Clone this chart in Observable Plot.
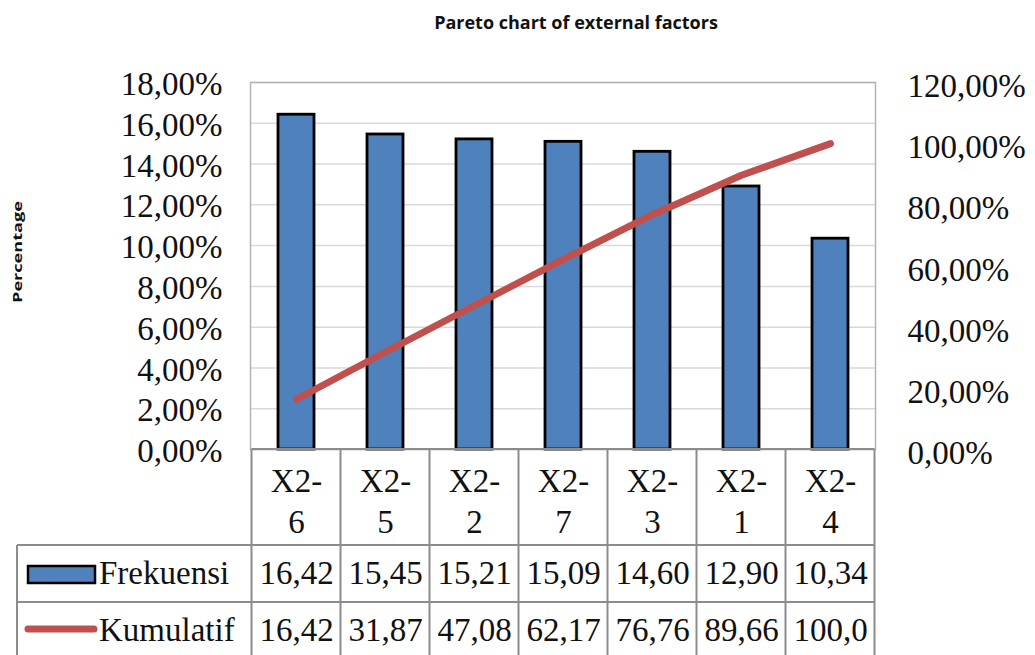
<!DOCTYPE html>
<html>
<head>
<meta charset="utf-8">
<script src="https://cdn.jsdelivr.net/npm/d3@7"></script>
<script src="https://cdn.jsdelivr.net/npm/@observablehq/plot@0.6"></script>
<style>
  html, body { margin: 0; padding: 0; background: #fff; }
  #chart svg { display: block; }
</style>
</head>
<body>
<div id="chart"></div>
<script>
const titleText = "Pareto chart of external factors";
const yLabelText = "Percentage";
const categories = ["X2-6", "X2-5", "X2-2", "X2-7", "X2-3", "X2-1", "X2-4"];
const categoryLabels = ["X2-\n6", "X2-\n5", "X2-\n2", "X2-\n7", "X2-\n3", "X2-\n1", "X2-\n4"];
const frekuensi = [16.42, 15.45, 15.21, 15.09, 14.60, 12.90, 10.34];
const kumulatif = [16.42, 31.87, 47.08, 62.17, 76.76, 89.66, 100.0];
const frekuensiLabels = ["16,42", "15,45", "15,21", "15,09", "14,60", "12,90", "10,34"];
const kumulatifLabels = ["16,42", "31,87", "47,08", "62,17", "76,76", "89,66", "100,0"];
const leftTicks = [0, 2, 4, 6, 8, 10, 12, 14, 16, 18];
const rightTicks = [0, 20, 40, 60, 80, 100, 120];
const seriesNames = ["Frekuensi", "Kumulatif"];

const leftMax = 18, rightMax = 120;
const toLeft = v => v * leftMax / rightMax;
const fmtPct = v => v.toFixed(2).replace(".", ",") + "%";

const data = categories.map((c, i) => ({
  cat: c, label: categoryLabels[i], freq: frekuensi[i], cum: kumulatif[i],
  freqLabel: frekuensiLabels[i], cumLabel: kumulatifLabels[i]
}));

const BLUE = "#4f81bd", RED = "#c0504d", GRID = "#d9d9d9", TABLE = "#8c8c8c", INK = "#111";
const SERIF = "'Liberation Serif', 'Times New Roman', serif";
const SANS = "'Open Sans', sans-serif";

const plot = Plot.plot({
  width: 1035,
  height: 655,
  marginLeft: 250,
  marginRight: 160,
  marginTop: 82,
  marginBottom: 206,
  style: { fontFamily: SERIF, fontSize: "33px", background: "#fff", color: INK },
  x: { domain: categories, paddingInner: 0.6, paddingOuter: 0.3, axis: null },
  y: { domain: [0, leftMax], axis: null },
  marks: [
    Plot.gridY(leftTicks, { stroke: GRID, strokeOpacity: 1, strokeWidth: 1.5 }),
    Plot.frame({ stroke: "#b4b4b4", strokeWidth: 1.5 }),
    Plot.axisY(leftTicks, {
      anchor: "left", tickSize: 0, tickPadding: 28, label: null,
      tickFormat: fmtPct, fontSize: 33, fontFamily: SERIF, dy: 2
    }),
    Plot.axisY(rightTicks.map(toLeft), {
      anchor: "right", tickSize: 0, tickPadding: 32, label: null,
      tickFormat: d => fmtPct(Math.round(d * rightMax / leftMax)), fontSize: 33, fontFamily: SERIF, dy: 4
    }),
    Plot.barY(data, { x: "cat", y: "freq", fill: BLUE, stroke: "#000", strokeWidth: 2.8 }),
    Plot.line(data, { x: "cat", y: d => toLeft(d.cum), stroke: RED, strokeWidth: 7, strokeLinecap: "round", strokeLinejoin: "round" }),
    // table text
    Plot.text(data, { x: "cat", text: "label", frameAnchor: "bottom", textAnchor: "middle", lineAnchor: "middle", lineHeight: 1.24, dy: 50, fontSize: 33, fontFamily: SERIF, fill: INK }),
    Plot.text(data, { x: "cat", text: "freqLabel", frameAnchor: "bottom", textAnchor: "middle", lineAnchor: "middle", dy: 124, fontSize: 33, fontFamily: SERIF, fill: INK }),
    Plot.text(data, { x: "cat", text: "cumLabel", frameAnchor: "bottom", textAnchor: "middle", lineAnchor: "middle", dy: 181, fontSize: 33, fontFamily: SERIF, fill: INK }),
    // title and y label
    Plot.text([titleText], { frameAnchor: "top", textAnchor: "middle", dx: 13, dy: -66, fontFamily: SANS, fontWeight: "bold", fontSize: 18, fill: INK }),
    Plot.text([yLabelText], { frameAnchor: "left", textAnchor: "middle", dx: -233, dy: -14, rotate: -90, fontFamily: SANS, fontWeight: "bold", fontSize: 13, fill: INK, className: "ylab" })
  ]
});

// stretch the rotated axis title to its length in the reference
d3.select(plot).selectAll(".ylab text").attr("textLength", 102).attr("lengthAdjust", "spacingAndGlyphs");

// Table grid and legend, positioned from Plot's own x scale
const xs = plot.scale("x");
const step = xs.step, bw = xs.bandwidth;
const starts = categories.map(c => xs.apply(c) + bw / 2 - step / 2);
const bounds = starts.concat([starts[starts.length - 1] + step]);
const x0 = bounds[0], x1 = bounds[bounds.length - 1];
const yTop = 449, yRow1 = 545, yRow2 = 602, yEnd = 660, xLegend = 17;

const svg = d3.select(plot);
const g = svg.append("g").attr("stroke", TABLE).attr("stroke-width", 2).attr("fill", "none");
g.append("line").attr("x1", x0).attr("x2", x1).attr("y1", yTop).attr("y2", yTop);
[yRow1, yRow2].forEach(y => g.append("line").attr("x1", xLegend).attr("x2", x1).attr("y1", y).attr("y2", y));
bounds.forEach(x => g.append("line").attr("x1", x).attr("x2", x).attr("y1", yTop).attr("y2", yEnd));
g.append("line").attr("x1", xLegend).attr("x2", xLegend).attr("y1", yRow1).attr("y2", yEnd);

const lg = svg.append("g").attr("text-anchor", "start").style("font-family", SERIF).style("font-size", "33px");
lg.append("rect").attr("x", 28).attr("y", 566).attr("width", 67).attr("height", 17)
  .attr("fill", BLUE).attr("stroke", "#000").attr("stroke-width", 2.5);
lg.append("line").attr("x1", 28).attr("x2", 94).attr("y1", 629).attr("y2", 629)
  .attr("stroke", RED).attr("stroke-width", 7).attr("stroke-linecap", "round");
lg.append("text").attr("x", 99).attr("y", 573).attr("dy", "0.32em").attr("fill", INK).text(seriesNames[0]);
lg.append("text").attr("x", 99).attr("y", 630).attr("dy", "0.32em").attr("fill", INK).text(seriesNames[1]);

document.getElementById("chart").appendChild(plot);
</script>
</body>
</html>
